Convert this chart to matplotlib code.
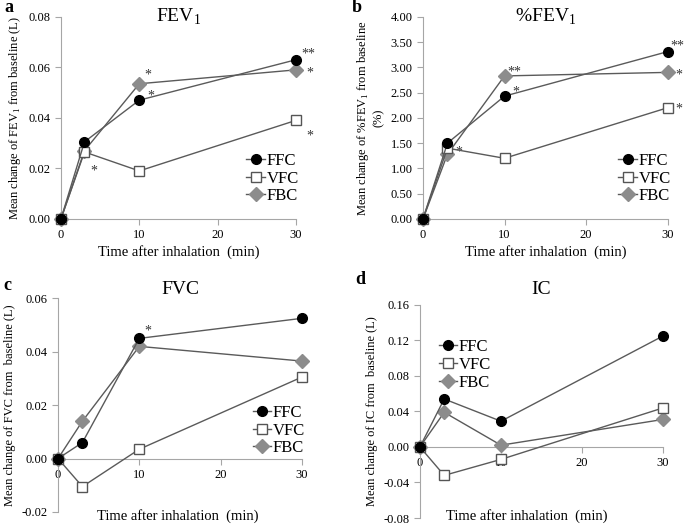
import matplotlib
matplotlib.use('Agg')
import matplotlib.pyplot as plt

plt.rcParams['font.family'] = ['Liberation Serif', 'DejaVu Serif']
plt.rcParams['mathtext.fontset'] = 'custom'
plt.rcParams['mathtext.rm'] = 'Liberation Serif'

time_min = [0, 3, 10, 30]
series_names = ['FFC', 'VFC', 'FBC']

# a: FEV1 (L)
fev1_ffc = [0.0, 0.0305, 0.047, 0.063]
fev1_vfc = [0.0, 0.0265, 0.019, 0.039]
fev1_fbc = [0.0, 0.027, 0.0535, 0.059]

# b: %FEV1 (%)
pfev1_ffc = [0.0, 1.50, 2.43, 3.31]
pfev1_vfc = [0.0, 1.40, 1.20, 2.20]
pfev1_fbc = [0.0, 1.28, 2.83, 2.90]

# c: FVC (L)
fvc_ffc = [0.0, 0.006, 0.045, 0.0525]
fvc_vfc = [0.0, -0.0105, 0.0035, 0.0305]
fvc_fbc = [0.0, 0.014, 0.042, 0.0365]

# d: IC (L)
ic_ffc = [0.0, 0.054, 0.029, 0.125]
ic_vfc = [0.0, -0.032, -0.014, 0.044]
ic_fbc = [0.0, 0.039, 0.002, 0.031]

# significance marks: (series index, point index, label, dx pt, dy pt)
stars_a = [(0, 2, '*', 8, 3), (0, 3, '**', 9, 4), (2, 2, '*', 6, 6),
           (2, 3, '*', 10, -2), (2, 1, '*', 7, -15), (1, 3, '*', 10, -11)]
stars_b = [(1, 1, '*', 8, -3), (2, 2, '**', 7, 3), (0, 2, '*', 8, 3),
           (0, 3, '**', 7, 4), (2, 3, '*', 8, -2), (1, 3, '*', 8, -1)]
stars_c = [(0, 2, '*', 6, 5)]
stars_d = []

line_col = '#5a5a5a'
spine_col = '#a6a6a6'
styles = [dict(marker='o', mfc='black', mec='black', ms=7),
          dict(marker='s', mfc='white', mec='#555555', ms=7.5, mew=1.0),
          dict(marker='D', mfc='#8c8c8c', mec='#8c8c8c', ms=7)]

W, H = 685.0, 525.0


def panel(rect, data, ylim, yticks, title, title_y, ylabel, letter, letter_xy,
          stars, leg_loc, leg_anchor, xlabel_xy=None):
    ax = fig.add_axes(rect)
    for k, ys in enumerate(data):
        ax.plot(time_min, ys, color=line_col, lw=1.0, label=series_names[k],
                clip_on=False, zorder=3 + (2 - k), **styles[k])
    for si, pi, lab, dx, dy in stars:
        ax.annotate(lab, (time_min[pi], data[si][pi]), xytext=(dx, dy),
                    textcoords='offset points', fontsize=10, color='#333333',
                    ha='center', va='center')
    ax.set_xlim(0, 30)
    ax.set_ylim(*ylim)
    ax.set_xticks([0, 10, 20, 30])
    ax.set_yticks(yticks)
    ax.set_yticklabels(['{:.2f}'.format(v) for v in yticks])
    for s in ['top', 'right']:
        ax.spines[s].set_visible(False)
    ax.spines['left'].set_color(spine_col)
    ax.spines['bottom'].set_color(spine_col)
    if xlabel_xy is not None:
        ax.spines['bottom'].set_position(('data', 0))
    ax.tick_params(axis='both', colors=spine_col, labelcolor='black',
                   labelsize=9, length=4, width=0.8)
    ax.text(0.5, title_y, title, fontsize=14, ha='center', va='center',
            transform=ax.transAxes)
    ax.set_ylabel(ylabel, fontsize=9, labelpad=4)
    if xlabel_xy is not None:
        fig.text(xlabel_xy[0] / W, 1 - xlabel_xy[1] / H,
                 'Time after inhalation  (min)', fontsize=10.5,
                 ha='center', va='center')
    else:
        ax.set_xlabel('Time after inhalation  (min)', fontsize=10.5, labelpad=3)
    ax.legend(loc=leg_loc, bbox_to_anchor=leg_anchor, frameon=False,
              fontsize=12, handlelength=1.1, handletextpad=0.1,
              labelspacing=0.1, borderaxespad=0)
    fig.text(letter_xy[0] / W, 1 - letter_xy[1] / H, letter,
             fontsize=13, fontweight='bold', va='center')
    return ax


fig = plt.figure(figsize=(6.85, 5.25), dpi=100)

panel([0.089, 0.583, 0.343, 0.385], [fev1_ffc, fev1_vfc, fev1_fbc],
      (0, 0.08), [0, 0.02, 0.04, 0.06, 0.08], r'FEV$_1$', 1.0,
      r'Mean change of FEV$_1$ from baseline (L)', 'a', (4, 7), stars_a,
      'lower right', (1.04, 0.04))

panel([0.6175, 0.583, 0.357, 0.385], [pfev1_ffc, pfev1_vfc, pfev1_fbc],
      (0, 4.0), [0, 0.5, 1.0, 1.5, 2.0, 2.5, 3.0, 3.5, 4.0],
      r'%FEV$_1$', 1.0, 'Mean change of %FEV$_1$ from baseline\n(%)', 'b',
      (352, 7), stars_b, 'lower right', (1.04, 0.04))

panel([0.0847, 0.0248, 0.356, 0.407], [fvc_ffc, fvc_vfc, fvc_fbc],
      (-0.02, 0.06), [-0.02, 0.0, 0.02, 0.04, 0.06], 'FVC', 1.04,
      'Mean change of FVC from  baseline (L)', 'c', (3, 286), stars_c,
      'lower right', (1.04, 0.23), xlabel_xy=(178, 516))

panel([0.613, 0.0133, 0.355, 0.406], [ic_ffc, ic_vfc, ic_fbc],
      (-0.08, 0.16), [-0.08, -0.04, 0.0, 0.04, 0.08, 0.12, 0.16],
      'IC', 1.07, 'Mean change of IC from  baseline (L)', 'd', (355, 280),
      stars_d, 'upper left', (0.05, 0.87), xlabel_xy=(527, 516))

plt.savefig('out.png', dpi=100)
